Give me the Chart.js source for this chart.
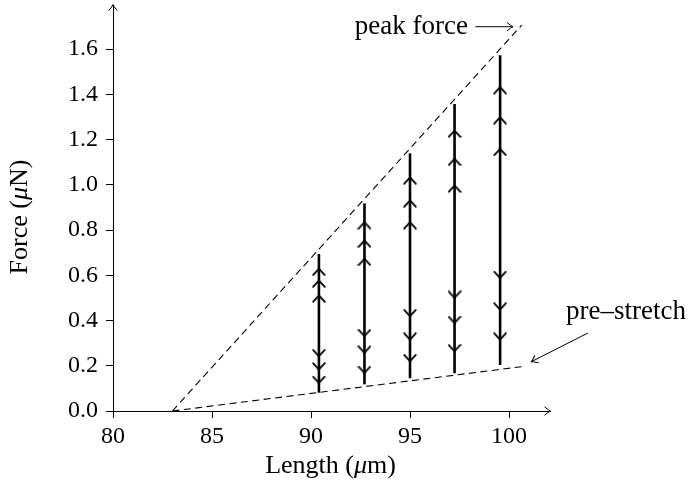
<!DOCTYPE html>
<html>
<head>
<meta charset="utf-8">
<script src="https://cdn.jsdelivr.net/npm/chart.js@4.4.0/dist/chart.umd.min.js"></script>
<style>
    html, body { margin: 0; padding: 0; background: #fff; }
</style>
</head>
<body>
<canvas id="forceChart" width="697" height="489"></canvas>
<script>
// stretch lengths (um) of the five vertical runs
const stretchLengths = [90.4, 92.7, 95.0, 97.25, 99.55];
const peakForces = [0.694, 0.918, 1.139, 1.357, 1.573];
const baseForces = [0.081, 0.118, 0.145, 0.167, 0.203];

// chevrons along each run
const upArrowForces = [
    [0.616, 0.564, 0.498],
    [0.822, 0.741, 0.660],
    [1.020, 0.918, 0.822],
    [1.227, 1.102, 0.984],
    [1.419, 1.286, 1.146]
];
const downArrowForces = [
    [0.255, 0.196, 0.137],
    [0.344, 0.270, 0.181],
    [0.432, 0.328, 0.233],
    [0.513, 0.402, 0.277],
    [0.601, 0.461, 0.328]
];

// dashed envelope lines
const envelopeLengths = [83.0, 100.64];
const peakLineForces = [0, 1.706];
const preStretchForces = [0, 0.196];

const xTicks = [80, 85, 90, 95, 100];
const yTicks = [0.0, 0.2, 0.4, 0.6, 0.8, 1.0, 1.2, 1.4, 1.6];

const serif = "'Liberation Serif', 'DejaVu Serif', serif";

function makeChevron() {
    var c = document.createElement('canvas');
    c.width = 14;
    c.height = 9;
    var g = c.getContext('2d');
    g.strokeStyle = '#000';
    g.lineWidth = 1.8;
    g.lineCap = 'round';
    g.beginPath();
    g.moveTo(1.2, 7.8);
    g.lineTo(7, 1.6);
    g.lineTo(12.8, 7.8);
    g.stroke();
    return c;
}
var chevron = makeChevron();

let datasets = [];
let upPoints = [];
let downPoints = [];
for (let i = 0; i < stretchLengths.length; i++) {
    upArrowForces[i].forEach(f => upPoints.push({x: stretchLengths[i], y: f}));
    downArrowForces[i].forEach(f => downPoints.push({x: stretchLengths[i], y: f}));
}
datasets.push({
    data: upPoints,
    pointStyle: chevron,
    rotation: 0,
    showLine: false
});
datasets.push({
    data: downPoints,
    pointStyle: chevron,
    rotation: 180,
    showLine: false
});
for (let i = 0; i < stretchLengths.length; i++) {
    datasets.push({
        data: [{x: stretchLengths[i], y: baseForces[i]}, {x: stretchLengths[i], y: peakForces[i]}],
        showLine: true,
        borderColor: '#000',
        borderWidth: 2.6,
        pointRadius: 0
    });
}
datasets.push({
    data: envelopeLengths.map((x, i) => ({x: x, y: peakLineForces[i]})),
    showLine: true,
    borderColor: '#000',
    borderWidth: 1.1,
    borderDash: [7, 4.5],
    pointRadius: 0
});
datasets.push({
    data: envelopeLengths.map((x, i) => ({x: x, y: preStretchForces[i]})),
    showLine: true,
    borderColor: '#000',
    borderWidth: 1.1,
    borderDash: [7, 4.5],
    pointRadius: 0
});

// labels, in data units
const notes = {
    peakText: {x: 97.93, y: 1.697, text: 'peak force'},
    peakArrow: {x1: 98.3, y1: 1.699, x2: 100.2, y2: 1.699},
    preText: {x: 102.88, y: 0.44, text: 'pre–stretch'},
    preArrow: {x1: 103.99, y1: 0.345, x2: 101.13, y2: 0.218}
};
const xTitle = [['Length (', false], ['μ', true], ['m)', false]];
const yTitle = [['Force (', false], ['μ', true], ['N)', false]];

function arrowHead(ctx, x, y, angle, size) {
    ctx.save();
    ctx.translate(x, y);
    ctx.rotate(angle);
    ctx.beginPath();
    ctx.moveTo(-size, -size * 0.7);
    ctx.quadraticCurveTo(-size * 0.35, -size * 0.15, 0, 0);
    ctx.quadraticCurveTo(-size * 0.35, size * 0.15, -size, size * 0.7);
    ctx.stroke();
    ctx.restore();
}

// draws text made of upright and italic pieces, centred on (cx, cy)
function drawTitle(ctx, parts, cx, cy, angle) {
    var size = 26;
    var widths = parts.map(function (p) {
        ctx.font = (p[1] ? 'italic ' : '') + size + 'px ' + serif;
        return ctx.measureText(p[0]).width;
    });
    var total = widths.reduce((s, w) => s + w, 0);
    ctx.save();
    ctx.translate(cx, cy);
    ctx.rotate(angle);
    ctx.textAlign = 'left';
    ctx.textBaseline = 'middle';
    var x = -total / 2;
    parts.forEach(function (p, i) {
        ctx.font = (p[1] ? 'italic ' : '') + size + 'px ' + serif;
        ctx.fillText(p[0], x, 0);
        x += widths[i];
    });
    ctx.restore();
}

const decorPlugin = {
    id: 'decor',
    afterDraw(chart) {
        var ctx = chart.ctx;
        var xs = chart.scales.x;
        var ys = chart.scales.y;
        var a = chart.chartArea;
        ctx.save();
        ctx.strokeStyle = '#000';
        ctx.fillStyle = '#000';
        ctx.lineWidth = 1;
        arrowHead(ctx, a.right + 0.5, a.bottom, 0, 6);
        arrowHead(ctx, a.left, a.top - 0.5, -Math.PI / 2, 6);

        drawTitle(ctx, xTitle, (a.left + a.right) / 2 - 1, a.bottom + 55, 0);
        drawTitle(ctx, yTitle, 20, (a.top + a.bottom) / 2 + 9, -Math.PI / 2);

        ctx.font = '27px ' + serif;
        ctx.textBaseline = 'middle';
        ctx.textAlign = 'right';
        ctx.fillText(notes.peakText.text, xs.getPixelForValue(notes.peakText.x), ys.getPixelForValue(notes.peakText.y));
        ctx.textAlign = 'left';
        ctx.fillText(notes.preText.text, xs.getPixelForValue(notes.preText.x), ys.getPixelForValue(notes.preText.y));

        [notes.peakArrow, notes.preArrow].forEach(function (ar) {
            var px1 = xs.getPixelForValue(ar.x1), py1 = ys.getPixelForValue(ar.y1);
            var px2 = xs.getPixelForValue(ar.x2), py2 = ys.getPixelForValue(ar.y2);
            ctx.beginPath();
            ctx.moveTo(px1, py1);
            ctx.lineTo(px2, py2);
            ctx.stroke();
            arrowHead(ctx, px2, py2, Math.atan2(py2 - py1, px2 - px1), 6);
        });
        ctx.restore();
    }
};

function noPadding(scale) {
    scale.paddingTop = 0;
    scale.paddingBottom = 0;
    scale.paddingLeft = 0;
    scale.paddingRight = 0;
}

var ctx1 = document.getElementById('forceChart').getContext('2d');
new Chart(ctx1, {
    type: 'scatter',
    data: {datasets: datasets},
    plugins: [decorPlugin],
    options: {
        responsive: false,
        animation: false,
        layout: {padding: {left: 0, right: 147, top: 5, bottom: 0}},
        plugins: {legend: {display: false}, tooltip: {enabled: false}},
        scales: {
            x: {
                type: 'linear',
                min: 80,
                max: 102.07,
                afterBuildTicks: function (scale) {
                    scale.ticks = xTicks.map(v => ({value: v}));
                },
                afterFit: function (scale) {
                    scale.height = 78;
                    noPadding(scale);
                },
                ticks: {
                    color: '#000',
                    font: {family: serif, size: 24},
                    padding: 4,
                    maxRotation: 0
                },
                grid: {display: true, drawOnChartArea: false, drawTicks: true, tickLength: 7, tickColor: '#000', color: '#000'},
                border: {display: true, color: '#000', width: 1},
                title: {display: false}
            },
            y: {
                type: 'linear',
                min: 0,
                max: 1.795,
                afterBuildTicks: function (scale) {
                    scale.ticks = yTicks.map(v => ({value: v}));
                },
                afterFit: function (scale) {
                    scale.width = 113;
                    noPadding(scale);
                },
                ticks: {
                    color: '#000',
                    font: {family: serif, size: 24},
                    padding: 8,
                    callback: v => v.toFixed(1)
                },
                grid: {display: true, drawOnChartArea: false, drawTicks: true, tickLength: 7, tickColor: '#000', color: '#000'},
                border: {display: true, color: '#000', width: 1},
                title: {display: false}
            }
        }
    }
});
</script>
</body>
</html>
